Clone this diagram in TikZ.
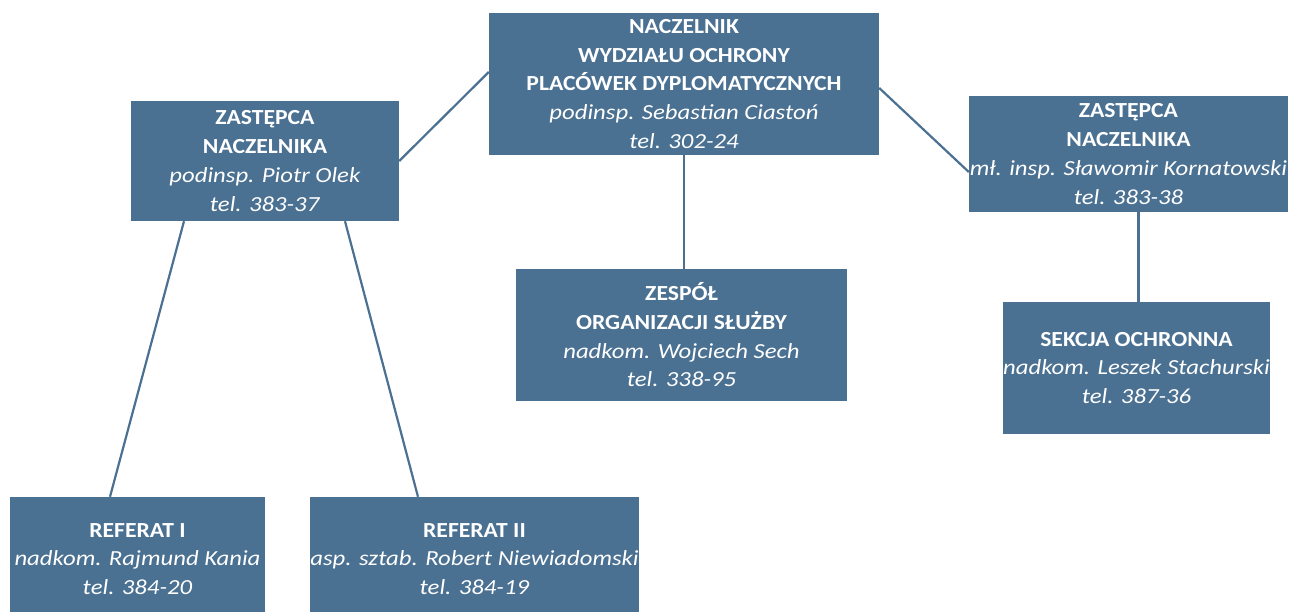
\documentclass[tikz,border=0pt]{standalone}
\usepackage{fontspec}
\setmainfont{Carlito}[FakeStretch=1.1, ItalicFeatures={FakeStretch=1.15}]
\definecolor{boxblue}{RGB}{74,112,146}
\begin{document}
\begin{tikzpicture}[
        x=1pt, y=-1pt,
        every node/.style={
            rectangle,
            fill=boxblue,
            text=white,
            align=center,
            inner sep=0pt,
            font=\fontsize{21.5}{28.7}\selectfont
        },
        conn/.style={draw=boxblue, line width=2.2pt}
    ]
    \useasboundingbox (0,0) rectangle (1292,612);

    % Naczelnik i zastepcy
    \node[minimum width=390pt, minimum height=142pt] (nacz) at (684,84)
        {\textbf{NACZELNIK}\\\textbf{WYDZIAŁU OCHRONY}\\\textbf{PLACÓWEK DYPLOMATYCZNYCH}\\\textit{podinsp. Sebastian Ciastoń}\\\textit{tel. 302-24}};
    \node[minimum width=268pt, minimum height=120pt] (zcl) at (265,161)
        {\textbf{ZASTĘPCA}\\\textbf{NACZELNIKA}\\\textit{podinsp. Piotr Olek}\\\textit{tel. 383-37}};
    \node[minimum width=319pt, minimum height=116pt] (zcr) at (1128.5,154)
        {\textbf{ZASTĘPCA}\\\textbf{NACZELNIKA}\\\textit{mł. insp. Sławomir Kornatowski}\\\textit{tel. 383-38}};

    % Komorki
    \node[minimum width=331pt, minimum height=132pt] (zos) at (681.5,335)
        {\textbf{ZESPÓŁ}\\\textbf{ORGANIZACJI SŁUŻBY}\\\textit{nadkom. Wojciech Sech}\\\textit{tel. 338-95}};
    \node[minimum width=267pt, minimum height=132pt] (sek) at (1136.5,368)
        {\textbf{SEKCJA OCHRONNA}\\\textit{nadkom. Leszek Stachurski}\\\textit{tel. 387-36}};
    \node[minimum width=255pt, minimum height=124pt] (ref1) at (137.5,559)
        {\textbf{REFERAT I}\\\textit{nadkom. Rajmund Kania}\\\textit{tel. 384-20}};
    \node[minimum width=329pt, minimum height=124pt] (ref2) at (474.5,559)
        {\textbf{REFERAT II}\\\textit{asp. sztab. Robert Niewiadomski}\\\textit{tel. 384-19}};

    % Polaczenia
    \draw[conn] ([yshift=12pt]nacz.west) -- (zcl.east);
    \draw[conn] ([yshift=-4pt]nacz.east) -- ([yshift=-18pt]zcr.west);
    \draw[conn] (nacz.south) -- (nacz.south |- zos.north);
    \draw[conn] ([xshift=10pt]zcr.south) -- ([xshift=10pt]zcr.south |- sek.north);
    \draw[conn] ([xshift=-81pt]zcl.south) -- ([xshift=-27.5pt]ref1.north);
    \draw[conn] ([xshift=80pt]zcl.south) -- ([xshift=-56.5pt]ref2.north);

\end{tikzpicture}
\end{document}
